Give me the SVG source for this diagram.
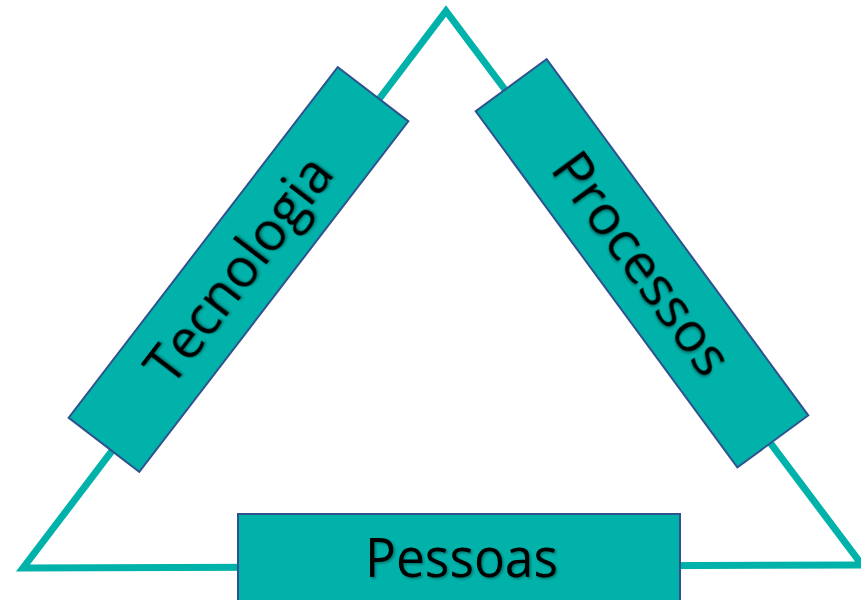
<svg xmlns="http://www.w3.org/2000/svg" width="861" height="600" viewBox="0 0 861 600">
  <style>
    .edge { fill: none; stroke: #00B2A9; stroke-width: 7; stroke-linejoin: miter; }
    .box { fill: #00B2A9; stroke: #2F528F; stroke-width: 2; }
    .lbl { font-family: "Open Sans", "Liberation Sans", sans-serif; font-size: 54px; fill: #000000; text-anchor: middle; filter: url(#shadow); }
  </style>
  <defs>
    <filter id="shadow" x="-10%" y="-30%" width="120%" height="160%">
      <feDropShadow dx="1.5" dy="1.5" stdDeviation="1.2" flood-color="#000000" flood-opacity="0.35"/>
    </filter>
  </defs>
  <rect width="861" height="600" fill="#ffffff"/>
  <g id="connectors">
    <path class="edge" d="M446,11 L862,565 L23,568 Z"/>
  </g>
  <g id="tecnologia" transform="translate(238.5,269.5) rotate(-52.5)">
    <rect class="box" x="-221" y="-44.5" width="442" height="89"/>
    <text class="lbl" x="0" y="19" textLength="270" lengthAdjust="spacingAndGlyphs">Tecnologia</text>
  </g>
  <g id="processos" transform="translate(642,263.3) rotate(53.7)">
    <rect class="box" x="-221" y="-44" width="442" height="88"/>
    <text class="lbl" x="0" y="19" textLength="262" lengthAdjust="spacingAndGlyphs">Processos</text>
  </g>
  <g id="pessoas">
    <rect class="box" x="238" y="514" width="442" height="89"/>
    <text class="lbl" x="461.5" y="577" textLength="193" lengthAdjust="spacingAndGlyphs">Pessoas</text>
  </g>
</svg>
